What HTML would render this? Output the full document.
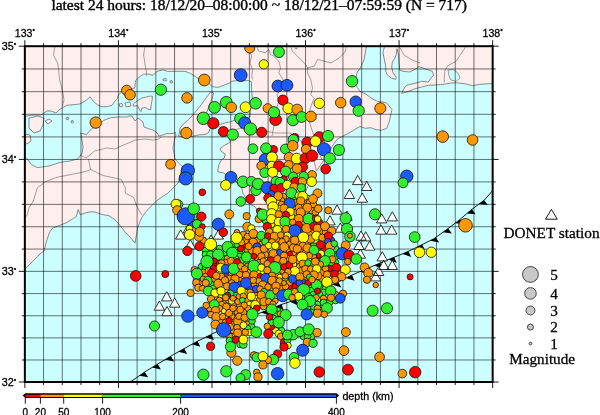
<!DOCTYPE html>
<html><head><meta charset="utf-8"><style>html,body{margin:0;padding:0;background:#fff;overflow:hidden}svg{display:block}</style></head>
<body>
<svg width="600" height="415" viewBox="0 0 600 415">
<defs><clipPath id="mc"><rect x="24.85" y="46.20" width="467.80" height="335.80"/></clipPath></defs>
<style>text{stroke:#000;stroke-width:0.28px}</style>
<rect width="600" height="415" fill="#fff"/>
<g clip-path="url(#mc)">
<rect x="24.85" y="46.20" width="467.80" height="335.80" fill="#ccffff"/>
<path d="M20.0 41.0 L367.4 41.0 L364.0 60.0 L360.3 68.0 L357.3 72.0 L356.0 77.3 L356.7 86.7 L360.0 91.3 L366.7 94.7 L372.0 98.7 L377.3 101.3 L381.3 101.7 L386.7 103.0 L392.0 109.7 L390.7 115.0 L389.3 121.7 L386.7 128.3 L381.3 130.3 L376.0 129.7 L370.7 127.7 L365.3 128.3 L360.0 126.5 L347.7 133.7 L337.6 138.8 L333.3 144.6 L330.0 150.0 L326.0 157.0 L321.7 163.4 L318.8 167.7 L314.5 173.5 L312.0 178.0 L308.0 186.0 L306.0 191.0 L303.0 197.0 L300.0 203.0 L292.0 212.0 L287.0 219.0 L283.0 224.0 L276.0 222.0 L270.0 218.0 L263.0 213.0 L257.7 210.7 L255.0 206.7 L249.7 204.0 L243.0 193.3 L241.7 188.0 L238.4 183.4 L230.0 178.0 L223.2 172.8 L217.7 171.8 L218.2 168.2 L219.2 164.2 L221.2 160.1 L224.2 158.1 L225.2 154.0 L221.3 151.4 L220.2 148.4 L224.3 145.4 L230.4 142.3 L229.4 139.3 L230.0 136.0 L228.3 131.0 L220.2 127.1 L217.5 126.5 L219.6 124.5 L225.0 123.0 L230.0 122.0 L235.0 120.0 L242.0 118.5 L250.0 117.0 L251.0 105.0 L252.3 97.5 L251.4 88.0 L251.7 82.0 L249.0 80.7 L238.3 80.4 L231.7 81.3 L229.0 83.3 L218.3 87.3 L214.0 87.0 L211.7 86.0 L205.0 80.0 L198.3 78.7 L195.7 76.7 L190.3 73.3 L185.0 71.3 L175.0 71.4 L168.0 71.4 L162.5 70.0 L157.0 71.4 L153.0 75.4 L149.0 74.1 L143.6 74.1 L139.5 76.8 L135.5 80.8 L134.7 88.0 L128.0 89.5 L122.7 90.7 L118.7 94.7 L117.3 98.7 L114.7 101.3 L112.0 105.3 L106.7 106.7 L101.3 106.7 L97.3 104.7 L93.3 101.3 L90.0 96.7 L86.7 100.0 L80.0 104.0 L73.3 104.7 L66.7 105.3 L60.0 109.3 L56.0 113.0 L51.0 111.0 L47.0 111.0 L41.0 115.0 L33.0 115.0 L20.0 117.0 ZM383.8 41.0 L384.3 47.3 L383.0 52.7 L384.3 59.3 L385.7 66.0 L385.7 71.3 L387.0 74.7 L391.0 78.0 L395.7 79.3 L396.3 77.3 L393.0 72.7 L391.7 67.3 L392.3 62.0 L395.0 58.0 L396.3 54.0 L397.0 48.7 L398.5 55.0 L399.7 70.0 L403.0 71.3 L409.7 72.0 L415.0 69.3 L419.0 66.7 L423.0 68.0 L428.3 70.0 L432.3 71.3 L433.7 75.3 L431.0 78.0 L428.3 82.0 L421.7 81.3 L415.0 83.3 L408.3 84.7 L405.7 86.0 L403.0 90.0 L401.7 93.3 L407.0 92.0 L415.0 88.7 L428.3 85.3 L435.0 85.0 L442.8 84.4 L450.6 83.1 L457.1 82.8 L465.0 83.8 L472.8 85.7 L479.3 84.4 L487.1 83.8 L498.0 83.5 L498.0 41.0 ZM20.0 155.0 L25.8 157.4 L31.6 164.7 L37.3 167.6 L49.0 166.0 L58.0 163.0 L63.4 161.8 L70.0 161.0 L77.8 159.0 L82.2 153.0 L83.0 147.0 L82.2 141.6 L80.7 133.0 L86.4 134.6 L92.0 128.3 L98.7 124.3 L104.0 120.3 L110.7 117.7 L118.7 117.0 L126.7 117.0 L129.0 116.0 L132.0 116.0 L135.0 121.0 L138.0 118.0 L143.0 122.0 L144.0 127.0 L148.0 128.5 L154.0 130.5 L157.0 133.0 L159.0 136.0 L163.0 135.0 L167.0 133.5 L173.0 133.5 L175.0 132.0 L176.0 135.0 L174.3 140.0 L173.0 148.0 L175.0 158.7 L178.3 162.7 L182.3 166.7 L181.0 171.4 L178.3 182.7 L173.0 188.0 L167.7 193.3 L162.3 196.7 L155.5 201.8 L152.2 205.2 L147.1 210.2 L142.0 217.0 L137.8 227.1 L135.0 243.1 L130.2 237.2 L125.2 232.2 L120.0 225.4 L115.1 219.8 L109.0 215.7 L102.8 214.7 L96.7 212.6 L92.6 211.6 L86.4 212.6 L80.3 214.7 L78.2 209.6 L76.2 216.7 L71.1 219.8 L66.0 222.9 L60.8 224.9 L55.7 227.0 L52.6 228.0 L49.6 232.1 L47.5 238.2 L45.5 244.4 L44.5 250.5 L39.3 254.6 L33.2 260.8 L25.0 269.0 L20.0 272.0 ZM213.0 92.3 L213.5 93.6 L211.3 100.4 L208.0 108.8 L206.3 113.8 L204.6 118.9 L208.8 124.0 L210.5 127.3 L208.8 132.4 L205.0 134.5 L199.4 134.8 L191.2 136.6 L183.0 137.4 L178.5 136.0 L179.3 134.1 L180.1 128.2 L183.5 124.0 L189.4 118.9 L195.3 112.2 L201.2 104.6 L206.3 97.8 L210.5 92.0 ZM133.4 104.0 L137.6 100.6 L141.9 98.1 L146.9 96.9 L150.3 96.0 L152.4 96.4 L152.0 100.6 L151.1 104.9 L150.7 109.9 L147.8 109.1 L145.2 107.4 L141.9 108.2 L141.0 111.6 L139.3 109.1 L137.6 105.7 L133.4 106.1 ZM29.0 118.0 L38.0 116.0 L44.0 118.0 L43.0 125.0 L40.0 131.0 L34.0 133.0 L29.0 128.0 ZM25.0 134.0 L30.0 135.0 L31.0 141.0 L27.0 144.0 L25.0 143.0 ZM45.0 121.0 L49.0 119.0 L52.0 121.0 L48.0 124.0 ZM125.0 103.0 L130.0 102.0 L131.0 106.0 L126.0 107.0 ZM119.0 104.0 L122.0 103.5 L123.0 106.0 L120.0 107.0 ZM66.0 118.0 L68.0 117.0 L69.0 119.0 L67.0 120.0 ZM71.0 121.0 L73.0 120.5 L73.5 122.5 L71.5 123.0 ZM163.0 79.0 L166.0 78.5 L166.5 80.5 L163.5 81.0 ZM170.0 81.0 L172.0 80.5 L172.5 82.5 L170.5 83.0 Z" fill="#ffeeee" stroke="#444" stroke-width="0.6" stroke-linejoin="round"/>
<path d="M448 70 L453 69.5 L458 73 L460 78 L456 81.5 L451 80 L449 76Z" fill="#ccffff" stroke="#444" stroke-width="0.5"/>
<path d="M294.5 41 L298 41 L297 48.8 L295 48.5Z" fill="#ccffff" stroke="#444" stroke-width="0.5"/>
<path d="M55.0 41.0 L55.0 46.0 L53.5 55.0 L58.0 64.0 L59.5 79.0 L62.5 91.0 L64.0 100.0 L62.5 106.0M145.0 41.0 L145.0 46.0 L143.6 55.0 L145.0 64.0 L146.6 73.0 L146.6 76.0M80.0 155.0 L86.0 158.0 L94.6 151.0 L107.0 148.0 L115.0 149.0 L123.3 145.0 L131.0 142.0 L135.0 140.0 L145.0 139.0 L153.0 140.0 L159.0 139.0 L161.0 137.0M88.5 159.0 L90.5 169.4 L86.4 171.4 L76.2 173.5 L66.0 175.5 L55.7 177.6 L45.5 181.7 L37.3 187.8 L35.2 195.0 L33.2 201.4 L29.1 207.5 L27.0 215.7 L20.0 222.0M90.5 169.4 L102.8 175.5 L113.0 177.6 L121.3 179.6 L125.3 187.8 L125.3 193.2 L133.5 197.3 L136.6 205.5 L139.7 211.6 L142.0 215.0M250.0 41.0 L250.0 52.7 L251.8 56.0 L250.0 62.9 L252.6 69.6 L251.8 76.4 L252.6 79.7M256.9 41.0 L256.9 46.0 L258.5 51.0 L265.3 52.7 L268.7 49.4 L270.4 54.4 L273.7 56.1 L278.8 61.2 L280.5 67.9 L278.8 73.0 L283.0 79.7 L282.2 86.5 L277.0 94.9 L278.8 101.6 L276.0 110.0 L275.0 121.0 L272.0 136.0M228.0 132.0 L245.0 127.0 L260.0 130.0 L275.0 133.0 L290.0 133.0 L300.0 140.0 L308.0 150.0 L314.0 160.0 L316.0 170.0M290.6 41.0 L290.6 46.0 L292.3 51.0 L295.6 54.4 L300.7 59.5 L305.8 64.5 L307.5 67.9 L307.5 73.0 L310.8 79.7 L312.5 88.2 L310.8 94.9 L314.2 98.3 L311.0 106.0 L308.0 118.0 L311.0 127.0 L314.0 136.0 L318.0 150.0 L322.0 160.0M307.5 67.9 L314.2 66.2 L317.6 59.5 L324.3 61.2 L331.0 62.9 L339.5 57.8 L345.0 52.0 L348.0 41.0M466.3 41.0 L466.3 46.0 L461.0 53.8 L455.8 61.6 L448.0 65.5 L444.8 70.7 L444.1 82.5M399.0 46.0 L404.0 55.0 L412.0 60.0 L420.0 63.0" fill="none" stroke="#666" stroke-width="0.6" stroke-linejoin="round"/>
<path d="M43.56 46.20V382.00M62.27 46.20V382.00M80.99 46.20V382.00M99.70 46.20V382.00M118.41 46.20V382.00M137.12 46.20V382.00M155.83 46.20V382.00M174.55 46.20V382.00M193.26 46.20V382.00M211.97 46.20V382.00M230.68 46.20V382.00M249.39 46.20V382.00M268.11 46.20V382.00M286.82 46.20V382.00M305.53 46.20V382.00M324.24 46.20V382.00M342.95 46.20V382.00M361.67 46.20V382.00M380.38 46.20V382.00M399.09 46.20V382.00M417.80 46.20V382.00M436.51 46.20V382.00M455.23 46.20V382.00M473.94 46.20V382.00M24.85 359.97H492.65M24.85 337.89H492.65M24.85 315.76H492.65M24.85 293.58H492.65M24.85 271.35H492.65M24.85 249.07H492.65M24.85 226.74H492.65M24.85 204.36H492.65M24.85 181.92H492.65M24.85 159.44H492.65M24.85 136.90H492.65M24.85 114.31H492.65M24.85 91.66H492.65M24.85 68.96H492.65" stroke="#000" stroke-width="0.9" stroke-opacity="0.62" fill="none"/>
<path d="M130.7 381.7 L146.7 370.7 L173.3 354.7 L194.7 342.7 L210.7 334.7 L224.0 328.0 L250.0 317.0 L280.0 305.0 L310.0 295.0 L335.5 283.5 L352.0 275.0 L385.0 261.0 L407.0 252.0 L420.3 245.5 L433.8 238.8 L445.6 230.4 L459.1 220.2 L470.9 210.1 L484.4 200.0 L494.0 189.0" stroke="#000" stroke-width="0.9" fill="none"/>
<path d="M139.4 375.8L144.7 372.1L148.2 377.2ZM152.2 367.4L157.7 364.1L160.9 369.4ZM165.3 359.5L170.9 356.2L174.0 361.5ZM178.5 351.8L184.2 348.6L187.2 354.0ZM191.8 344.3L197.6 341.3L200.3 346.8ZM205.4 337.3L211.3 334.4L214.0 340.0ZM219.1 330.5L224.9 327.6L227.4 333.3ZM233.0 324.2L239.0 321.6L241.5 327.3ZM247.1 318.2L253.2 315.7L255.5 321.5ZM261.3 312.5L267.4 310.1L269.7 315.8ZM275.5 306.8L281.6 304.5L283.6 310.3ZM289.9 301.7L296.1 299.6L298.1 305.5ZM304.5 296.8L310.6 294.7L313.2 300.4ZM318.6 291.1L324.6 288.4L327.1 294.1ZM332.6 284.8L338.4 282.0L341.3 287.5ZM346.2 278.0L352.0 275.0L354.4 280.7ZM360.1 271.6L366.1 269.0L368.5 274.7ZM374.2 265.6L380.2 263.0L382.6 268.7ZM388.3 259.6L394.3 257.2L396.7 262.9ZM402.5 253.9L408.4 251.3L411.2 256.9ZM416.4 247.4L422.2 244.6L424.9 250.1ZM430.1 240.7L435.7 237.4L439.3 242.5ZM442.9 232.3L448.1 228.5L451.9 233.4ZM455.1 223.2L460.3 219.2L464.3 223.9ZM466.9 213.5L471.9 209.3L475.7 214.3ZM479.0 204.0L484.2 200.2L487.9 205.1Z" fill="#000"/>
<path d="M166.7 291.7L171.9 300.9L161.5 300.9ZM174.7 298.0L179.9 307.2L169.5 307.2ZM159.4 301.0L164.6 310.2L154.2 310.2ZM167.0 306.5L172.2 315.7L161.8 315.7ZM357.7 175.4L362.9 184.6L352.5 184.6ZM366.7 181.3L371.9 190.5L361.5 190.5ZM349.4 189.3L354.6 198.5L344.2 198.5ZM288.0 276.5L293.2 285.7L282.8 285.7ZM362.3 193.0L367.5 202.2L357.1 202.2ZM180.7 229.9L185.9 239.1L175.5 239.1ZM188.3 223.7L193.5 232.9L183.1 232.9ZM190.3 239.7L195.5 248.9L185.1 248.9ZM218.3 229.9L223.5 239.1L213.1 239.1ZM211.0 235.0L216.2 244.2L205.8 244.2ZM337.0 205.0L342.2 214.2L331.8 214.2ZM347.0 211.0L352.2 220.2L341.8 220.2ZM330.0 215.7L335.2 224.9L324.8 224.9ZM340.3 223.0L345.5 232.2L335.1 232.2ZM381.7 213.7L386.9 222.9L376.5 222.9ZM392.3 211.7L397.5 220.9L387.1 220.9ZM381.0 225.0L386.2 234.2L375.8 234.2ZM391.7 225.0L396.9 234.2L386.5 234.2ZM361.0 231.0L366.2 240.2L355.8 240.2ZM365.7 231.7L370.9 240.9L360.5 240.9ZM359.0 240.3L364.2 249.5L353.8 249.5ZM369.7 241.0L374.9 250.2L364.5 250.2ZM360.3 249.0L365.5 258.2L355.1 258.2ZM382.3 251.7L387.5 260.9L377.1 260.9ZM383.7 260.3L388.9 269.5L378.5 269.5ZM392.3 260.3L397.5 269.5L387.1 269.5ZM378.7 266.3L383.9 275.5L373.5 275.5ZM375.7 271.7L380.9 280.9L370.5 280.9Z" fill="#fff" stroke="#000" stroke-width="0.8" stroke-linejoin="miter"/>
<g stroke="#111" stroke-width="0.8"><circle cx="283.5" cy="196.5" r="3.35" fill="#ff9800"/><circle cx="293.5" cy="198.5" r="3.35" fill="#30f030"/><circle cx="307.5" cy="198.5" r="3.35" fill="#ffff00"/><circle cx="281.5" cy="200.5" r="3.35" fill="#ff9800"/><circle cx="277.5" cy="202.5" r="3.35" fill="#ffff00"/><circle cx="295.5" cy="202.5" r="3.35" fill="#ff9800"/><circle cx="305.5" cy="202.5" r="3.35" fill="#ff9800"/><circle cx="309.5" cy="202.5" r="3.35" fill="#ff9800"/><circle cx="281.5" cy="204.5" r="3.35" fill="#ff9800"/><circle cx="313.5" cy="204.5" r="3.35" fill="#ff9800"/><circle cx="279.5" cy="208.5" r="3.35" fill="#ffff00"/><circle cx="293.5" cy="208.5" r="3.35" fill="#ff9800"/><circle cx="311.5" cy="210.5" r="3.35" fill="#ff9800"/><circle cx="295.5" cy="212.5" r="3.35" fill="#ff9800"/><circle cx="315.5" cy="212.5" r="3.35" fill="#ff9800"/><circle cx="195.5" cy="216.5" r="3.35" fill="#30f030"/><circle cx="291.5" cy="216.5" r="3.35" fill="#ffff00"/><circle cx="265.5" cy="220.5" r="3.35" fill="#30f030"/><circle cx="303.5" cy="222.5" r="3.35" fill="#ff9800"/><circle cx="319.5" cy="222.5" r="3.35" fill="#ff0000"/><circle cx="191.5" cy="224.5" r="3.35" fill="#1a5aff"/><circle cx="271.5" cy="224.5" r="3.35" fill="#ffff00"/><circle cx="281.5" cy="226.5" r="3.35" fill="#ffff00"/><circle cx="289.5" cy="226.5" r="3.35" fill="#ff9800"/><circle cx="193.5" cy="230.5" r="3.35" fill="#ff9800"/><circle cx="301.5" cy="230.5" r="3.35" fill="#1a5aff"/><circle cx="311.5" cy="230.5" r="3.35" fill="#ff9800"/><circle cx="321.5" cy="230.5" r="3.35" fill="#ff9800"/><circle cx="283.5" cy="232.5" r="3.35" fill="#ff9800"/><circle cx="325.5" cy="232.5" r="3.35" fill="#ff9800"/><circle cx="309.5" cy="234.5" r="3.35" fill="#ff9800"/><circle cx="203.5" cy="240.5" r="3.35" fill="#ff9800"/><circle cx="257.5" cy="240.5" r="3.35" fill="#ff9800"/><circle cx="277.5" cy="240.5" r="3.35" fill="#ff9800"/><circle cx="289.5" cy="240.5" r="3.35" fill="#ff9800"/><circle cx="315.5" cy="240.5" r="3.35" fill="#ffff00"/><circle cx="331.5" cy="240.5" r="3.35" fill="#1a5aff"/><circle cx="299.5" cy="242.5" r="3.35" fill="#ff9800"/><circle cx="307.5" cy="242.5" r="3.35" fill="#ff9800"/><circle cx="233.5" cy="244.5" r="3.35" fill="#30f030"/><circle cx="237.5" cy="244.5" r="3.35" fill="#30f030"/><circle cx="261.5" cy="244.5" r="3.35" fill="#ff9800"/><circle cx="279.5" cy="244.5" r="3.35" fill="#ff9800"/><circle cx="289.5" cy="244.5" r="3.35" fill="#ff9800"/><circle cx="243.5" cy="246.5" r="3.35" fill="#ff0000"/><circle cx="219.5" cy="248.5" r="3.35" fill="#30f030"/><circle cx="271.5" cy="248.5" r="3.35" fill="#ffff00"/><circle cx="279.5" cy="248.5" r="3.35" fill="#ff9800"/><circle cx="323.5" cy="248.5" r="3.35" fill="#ff0000"/><circle cx="205.5" cy="250.5" r="3.35" fill="#30f030"/><circle cx="213.5" cy="250.5" r="3.35" fill="#30f030"/><circle cx="243.5" cy="250.5" r="3.35" fill="#30f030"/><circle cx="247.5" cy="250.5" r="3.35" fill="#ff9800"/><circle cx="251.5" cy="250.5" r="3.35" fill="#ff9800"/><circle cx="289.5" cy="250.5" r="3.35" fill="#ff9800"/><circle cx="239.5" cy="252.5" r="3.35" fill="#30f030"/><circle cx="293.5" cy="252.5" r="3.35" fill="#ff9800"/><circle cx="305.5" cy="252.5" r="3.35" fill="#ff9800"/><circle cx="335.5" cy="252.5" r="3.35" fill="#ff9800"/><circle cx="225.5" cy="254.5" r="3.35" fill="#30f030"/><circle cx="265.5" cy="254.5" r="3.35" fill="#ff9800"/><circle cx="239.5" cy="256.5" r="3.35" fill="#30f030"/><circle cx="313.5" cy="256.5" r="3.35" fill="#ff9800"/><circle cx="223.5" cy="258.5" r="3.35" fill="#30f030"/><circle cx="227.5" cy="258.5" r="3.35" fill="#ff9800"/><circle cx="235.5" cy="258.5" r="3.35" fill="#30f030"/><circle cx="257.5" cy="258.5" r="3.35" fill="#ff9800"/><circle cx="287.5" cy="258.5" r="3.35" fill="#ff9800"/><circle cx="319.5" cy="258.5" r="3.35" fill="#ff0000"/><circle cx="217.5" cy="262.5" r="3.35" fill="#ff0000"/><circle cx="225.5" cy="262.5" r="3.35" fill="#ff9800"/><circle cx="245.5" cy="262.5" r="3.35" fill="#30f030"/><circle cx="259.5" cy="262.5" r="3.35" fill="#ff9800"/><circle cx="279.5" cy="262.5" r="3.35" fill="#ff9800"/><circle cx="297.5" cy="262.5" r="3.35" fill="#ff9800"/><circle cx="335.5" cy="262.5" r="3.35" fill="#30f030"/><circle cx="213.5" cy="264.5" r="3.35" fill="#ff0000"/><circle cx="293.5" cy="264.5" r="3.35" fill="#ffff00"/><circle cx="311.5" cy="264.5" r="3.35" fill="#ff9800"/><circle cx="331.5" cy="264.5" r="3.35" fill="#30f030"/><circle cx="201.5" cy="266.5" r="3.35" fill="#30f030"/><circle cx="247.5" cy="266.5" r="3.35" fill="#ff9800"/><circle cx="299.5" cy="266.5" r="3.35" fill="#ff9800"/><circle cx="205.5" cy="268.5" r="3.35" fill="#30f030"/><circle cx="213.5" cy="268.5" r="3.35" fill="#ff0000"/><circle cx="321.5" cy="268.5" r="3.35" fill="#ff9800"/><circle cx="329.5" cy="268.5" r="3.35" fill="#ff0000"/><circle cx="239.5" cy="270.5" r="3.35" fill="#ff9800"/><circle cx="281.5" cy="270.5" r="3.35" fill="#ff9800"/><circle cx="301.5" cy="270.5" r="3.35" fill="#ff9800"/><circle cx="203.5" cy="272.5" r="3.35" fill="#ff9800"/><circle cx="219.5" cy="272.5" r="3.35" fill="#ffff00"/><circle cx="249.5" cy="272.5" r="3.35" fill="#ff9800"/><circle cx="259.5" cy="272.5" r="3.35" fill="#ffff00"/><circle cx="263.5" cy="272.5" r="3.35" fill="#ffff00"/><circle cx="321.5" cy="272.5" r="3.35" fill="#ff9800"/><circle cx="227.5" cy="274.5" r="3.35" fill="#1a5aff"/><circle cx="231.5" cy="274.5" r="3.35" fill="#ff9800"/><circle cx="235.5" cy="274.5" r="3.35" fill="#ff9800"/><circle cx="239.5" cy="274.5" r="3.35" fill="#ff9800"/><circle cx="277.5" cy="274.5" r="3.35" fill="#ff9800"/><circle cx="205.5" cy="276.5" r="3.35" fill="#ff9800"/><circle cx="221.5" cy="276.5" r="3.35" fill="#ff9800"/><circle cx="305.5" cy="278.5" r="3.35" fill="#ff9800"/><circle cx="321.5" cy="278.5" r="3.35" fill="#ff9800"/><circle cx="213.5" cy="280.5" r="3.35" fill="#ff9800"/><circle cx="239.5" cy="280.5" r="3.35" fill="#ff9800"/><circle cx="285.5" cy="280.5" r="3.35" fill="#ff9800"/><circle cx="201.5" cy="282.5" r="3.35" fill="#ff9800"/><circle cx="295.5" cy="282.5" r="3.35" fill="#1a5aff"/><circle cx="303.5" cy="282.5" r="3.35" fill="#1a5aff"/><circle cx="211.5" cy="284.5" r="3.35" fill="#30f030"/><circle cx="239.5" cy="284.5" r="3.35" fill="#1a5aff"/><circle cx="253.5" cy="284.5" r="3.35" fill="#ff9800"/><circle cx="281.5" cy="284.5" r="3.35" fill="#ff9800"/><circle cx="289.5" cy="286.5" r="3.35" fill="#ff0000"/><circle cx="309.5" cy="286.5" r="3.35" fill="#30f030"/><circle cx="213.5" cy="288.5" r="3.35" fill="#30f030"/><circle cx="249.5" cy="288.5" r="3.35" fill="#1a5aff"/><circle cx="271.5" cy="288.5" r="3.35" fill="#ff9800"/><circle cx="281.5" cy="288.5" r="3.35" fill="#ff9800"/><circle cx="321.5" cy="288.5" r="3.35" fill="#30f030"/><circle cx="325.5" cy="288.5" r="3.35" fill="#30f030"/><circle cx="225.5" cy="290.5" r="3.35" fill="#ffff00"/><circle cx="311.5" cy="290.5" r="3.35" fill="#30f030"/><circle cx="245.5" cy="292.5" r="3.35" fill="#ffff00"/><circle cx="235.5" cy="294.5" r="3.35" fill="#30f030"/><circle cx="255.5" cy="294.5" r="3.35" fill="#ff9800"/><circle cx="313.5" cy="294.5" r="3.35" fill="#30f030"/><circle cx="335.5" cy="294.5" r="3.35" fill="#ff9800"/><circle cx="219.5" cy="296.5" r="3.35" fill="#ffff00"/><circle cx="239.5" cy="296.5" r="3.35" fill="#ff9800"/><circle cx="303.5" cy="296.5" r="3.35" fill="#30f030"/><circle cx="215.5" cy="298.5" r="3.35" fill="#ff9800"/><circle cx="255.5" cy="298.5" r="3.35" fill="#ffff00"/><circle cx="219.5" cy="300.5" r="3.35" fill="#ff9800"/><circle cx="247.5" cy="300.5" r="3.35" fill="#ff9800"/><circle cx="259.5" cy="300.5" r="3.35" fill="#ff9800"/><circle cx="335.5" cy="300.5" r="3.35" fill="#30f030"/><circle cx="225.5" cy="302.5" r="3.35" fill="#ff9800"/><circle cx="221.5" cy="304.5" r="3.35" fill="#ff9800"/><circle cx="233.5" cy="304.5" r="3.35" fill="#ff9800"/><circle cx="239.5" cy="304.5" r="3.35" fill="#ff9800"/><circle cx="249.5" cy="304.5" r="3.35" fill="#ffff00"/><circle cx="263.5" cy="306.5" r="3.35" fill="#ff9800"/><circle cx="209.5" cy="308.5" r="3.35" fill="#ff9800"/><circle cx="219.5" cy="308.5" r="3.35" fill="#ff9800"/><circle cx="247.5" cy="308.5" r="3.35" fill="#ff9800"/><circle cx="309.5" cy="308.5" r="3.35" fill="#30f030"/><circle cx="277.5" cy="310.5" r="3.35" fill="#30f030"/><circle cx="313.5" cy="310.5" r="3.35" fill="#30f030"/><circle cx="321.5" cy="310.5" r="3.35" fill="#ff9800"/><circle cx="233.5" cy="312.5" r="3.35" fill="#ff9800"/><circle cx="237.5" cy="312.5" r="3.35" fill="#ff9800"/><circle cx="243.5" cy="312.5" r="3.35" fill="#ff9800"/><circle cx="275.5" cy="314.5" r="3.35" fill="#30f030"/><circle cx="231.5" cy="316.5" r="3.35" fill="#ff9800"/><circle cx="273.5" cy="318.5" r="3.35" fill="#30f030"/><circle cx="221.5" cy="320.5" r="3.35" fill="#ff9800"/><circle cx="225.5" cy="322.5" r="3.35" fill="#ff9800"/><circle cx="233.5" cy="324.5" r="3.35" fill="#ff9800"/><circle cx="247.5" cy="324.5" r="3.35" fill="#ff9800"/><circle cx="251.5" cy="326.5" r="3.35" fill="#30f030"/><circle cx="247.5" cy="328.5" r="3.35" fill="#30f030"/><circle cx="233.5" cy="330.5" r="3.35" fill="#ff9800"/><circle cx="241.5" cy="330.5" r="3.35" fill="#ff9800"/><circle cx="275.5" cy="330.5" r="3.35" fill="#ffff00"/><circle cx="281.5" cy="330.5" r="3.35" fill="#30f030"/><circle cx="229.5" cy="336.5" r="3.35" fill="#ff9800"/><circle cx="311.5" cy="336.5" r="3.35" fill="#30f030"/><circle cx="283.5" cy="342.5" r="3.35" fill="#ff0000"/><circle cx="189.5" cy="228.5" r="3.35" fill="#ffff00"/><circle cx="245.5" cy="240.5" r="3.35" fill="#ff9800"/><circle cx="335.5" cy="248.5" r="3.35" fill="#30f030"/><circle cx="205.5" cy="254.5" r="3.35" fill="#30f030"/><circle cx="335.5" cy="256.5" r="3.35" fill="#30f030"/><circle cx="241.5" cy="260.5" r="3.35" fill="#30f030"/><circle cx="325.5" cy="268.5" r="3.35" fill="#ff9800"/><circle cx="229.5" cy="278.5" r="3.35" fill="#ff9800"/><circle cx="289.5" cy="282.5" r="3.35" fill="#ff9800"/><circle cx="285.5" cy="286.5" r="3.35" fill="#ff9800"/><circle cx="323.5" cy="292.5" r="3.35" fill="#30f030"/><circle cx="329.5" cy="302.5" r="3.35" fill="#30f030"/><circle cx="317.5" cy="304.5" r="3.35" fill="#30f030"/><circle cx="271.5" cy="326.5" r="3.35" fill="#ff0000"/><circle cx="249.5" cy="332.5" r="3.35" fill="#ffff00"/><circle cx="303.5" cy="336.5" r="3.35" fill="#30f030"/><circle cx="307.5" cy="336.5" r="3.35" fill="#30f030"/><circle cx="229.5" cy="340.5" r="3.35" fill="#30f030"/><circle cx="287.5" cy="340.5" r="3.35" fill="#30f030"/><circle cx="243.5" cy="234.5" r="3.35" fill="#ff9800"/><circle cx="247.5" cy="236.5" r="3.35" fill="#ff9800"/><circle cx="241.5" cy="242.5" r="3.35" fill="#ff9800"/><circle cx="319.5" cy="294.5" r="3.35" fill="#30f030"/><circle cx="323.5" cy="298.5" r="3.35" fill="#ff9800"/><circle cx="323.5" cy="302.5" r="3.35" fill="#30f030"/><circle cx="313.5" cy="306.5" r="3.35" fill="#30f030"/><circle cx="317.5" cy="308.5" r="3.35" fill="#ff9800"/><circle cx="271.5" cy="322.5" r="3.35" fill="#30f030"/><circle cx="202.3" cy="192.3" r="3.35" fill="#ff0000"/><circle cx="126.7" cy="90.3" r="5.10" fill="#ff9800"/><circle cx="130.1" cy="94.8" r="5.25" fill="#ff9800"/><circle cx="160.9" cy="89.7" r="5.65" fill="#30f030"/><circle cx="95.7" cy="122.6" r="5.70" fill="#ff9800"/><circle cx="249.7" cy="48.0" r="5.05" fill="#ff9800"/><circle cx="263.8" cy="64.3" r="4.65" fill="#ffff00"/><circle cx="240.7" cy="75.1" r="6.40" fill="#1a5aff"/><circle cx="204.3" cy="80.0" r="5.90" fill="#ff9800"/><circle cx="279.0" cy="52.0" r="5.50" fill="#30f030"/><circle cx="277.9" cy="86.0" r="5.90" fill="#1a5aff"/><circle cx="287.0" cy="85.3" r="5.90" fill="#1a5aff"/><circle cx="352.0" cy="81.3" r="5.75" fill="#30f030"/><circle cx="319.3" cy="103.3" r="5.25" fill="#ffff00"/><circle cx="340.7" cy="102.7" r="5.25" fill="#ff9800"/><circle cx="355.7" cy="101.7" r="5.70" fill="#1a5aff"/><circle cx="358.7" cy="110.7" r="5.65" fill="#30f030"/><circle cx="380.3" cy="108.3" r="5.55" fill="#ff9800"/><circle cx="442.7" cy="136.6" r="5.80" fill="#ff9800"/><circle cx="472.6" cy="140.0" r="5.30" fill="#ff9800"/><circle cx="465.5" cy="225.3" r="6.80" fill="#ff9800"/><circle cx="414.7" cy="237.1" r="5.40" fill="#30f030"/><circle cx="419.5" cy="252.3" r="5.30" fill="#ffff00"/><circle cx="431.3" cy="252.3" r="5.15" fill="#ffff00"/><circle cx="135.7" cy="275.9" r="5.35" fill="#ff0000"/><circle cx="165.3" cy="274.1" r="3.55" fill="#ff0000"/><circle cx="402.4" cy="373.6" r="4.35" fill="#ff9800"/><circle cx="415.2" cy="372.2" r="5.75" fill="#ff0000"/><circle cx="410.1" cy="276.9" r="3.05" fill="#ff0000"/><circle cx="154.5" cy="326.0" r="5.05" fill="#30f030"/><circle cx="406.8" cy="176.2" r="6.20" fill="#1a5aff"/><circle cx="403.0" cy="182.8" r="4.95" fill="#30f030"/><circle cx="187.0" cy="97.9" r="5.26" fill="#ff9800"/><circle cx="214.6" cy="107.3" r="5.89" fill="#30f030"/><circle cx="226.3" cy="102.3" r="5.89" fill="#30f030"/><circle cx="231.3" cy="107.3" r="5.26" fill="#ff9800"/><circle cx="203.4" cy="118.3" r="6.23" fill="#30f030"/><circle cx="213.3" cy="123.3" r="5.65" fill="#ff0000"/><circle cx="240.3" cy="118.7" r="5.65" fill="#30f030"/><circle cx="223.4" cy="131.7" r="5.10" fill="#ff0000"/><circle cx="232.7" cy="134.6" r="5.65" fill="#30f030"/><circle cx="186.3" cy="133.0" r="5.65" fill="#ff9800"/><circle cx="245.6" cy="107.3" r="5.41" fill="#ffff00"/><circle cx="255.6" cy="103.3" r="5.77" fill="#30f030"/><circle cx="267.7" cy="108.3" r="4.63" fill="#ff9800"/><circle cx="275.6" cy="119.7" r="5.89" fill="#ff0000"/><circle cx="274.0" cy="112.3" r="5.65" fill="#30f030"/><circle cx="282.9" cy="100.1" r="5.10" fill="#ff0000"/><circle cx="288.3" cy="108.3" r="5.41" fill="#ffff00"/><circle cx="297.1" cy="109.4" r="5.26" fill="#ff9800"/><circle cx="292.9" cy="120.3" r="5.57" fill="#30f030"/><circle cx="244.7" cy="123.0" r="6.04" fill="#1a5aff"/><circle cx="250.4" cy="129.0" r="6.20" fill="#30f030"/><circle cx="261.7" cy="132.3" r="5.10" fill="#ff0000"/><circle cx="294.7" cy="137.7" r="4.08" fill="#ff0000"/><circle cx="293.3" cy="139.7" r="5.26" fill="#30f030"/><circle cx="301.7" cy="117.0" r="5.45" fill="#30f030"/><circle cx="310.9" cy="116.5" r="5.41" fill="#ff9800"/><circle cx="319.3" cy="137.3" r="5.65" fill="#ff0000"/><circle cx="328.0" cy="136.0" r="5.57" fill="#30f030"/><circle cx="307.3" cy="142.5" r="5.45" fill="#ff0000"/><circle cx="315.5" cy="141.2" r="5.34" fill="#ffff00"/><circle cx="324.0" cy="149.3" r="6.57" fill="#1a5aff"/><circle cx="338.9" cy="150.0" r="5.57" fill="#30f030"/><circle cx="170.6" cy="164.3" r="4.86" fill="#ff9800"/><circle cx="187.9" cy="170.4" r="6.57" fill="#1a5aff"/><circle cx="185.7" cy="178.4" r="6.57" fill="#1a5aff"/><circle cx="231.0" cy="177.3" r="5.90" fill="#1a5aff"/><circle cx="225.7" cy="185.1" r="5.10" fill="#ffff00"/><circle cx="252.9" cy="148.7" r="4.86" fill="#30f030"/><circle cx="273.3" cy="149.7" r="4.08" fill="#ff0000"/><circle cx="266.0" cy="148.3" r="5.41" fill="#30f030"/><circle cx="285.3" cy="149.0" r="4.86" fill="#30f030"/><circle cx="292.7" cy="145.8" r="5.26" fill="#ff9800"/><circle cx="306.1" cy="149.2" r="4.75" fill="#ff9800"/><circle cx="265.3" cy="159.4" r="6.04" fill="#1a5aff"/><circle cx="272.0" cy="157.3" r="5.41" fill="#ffff00"/><circle cx="289.1" cy="157.3" r="4.86" fill="#ff9800"/><circle cx="296.7" cy="158.6" r="5.41" fill="#ffff00"/><circle cx="305.3" cy="158.3" r="5.26" fill="#ff0000"/><circle cx="312.0" cy="155.7" r="5.65" fill="#ff0000"/><circle cx="261.3" cy="165.7" r="4.47" fill="#ff9800"/><circle cx="271.7" cy="165.7" r="4.47" fill="#ffff00"/><circle cx="278.9" cy="166.1" r="5.41" fill="#ff0000"/><circle cx="288.7" cy="165.0" r="4.47" fill="#ff9800"/><circle cx="302.7" cy="167.0" r="4.86" fill="#ff0000"/><circle cx="297.1" cy="168.7" r="4.86" fill="#ff9800"/><circle cx="264.7" cy="172.7" r="4.86" fill="#30f030"/><circle cx="272.7" cy="172.3" r="5.10" fill="#ffff00"/><circle cx="285.7" cy="171.4" r="5.26" fill="#30f030"/><circle cx="312.0" cy="175.0" r="4.47" fill="#ff9800"/><circle cx="293.1" cy="176.7" r="4.63" fill="#30f030"/><circle cx="303.7" cy="176.3" r="4.63" fill="#30f030"/><circle cx="284.0" cy="179.0" r="3.29" fill="#ff0000"/><circle cx="243.0" cy="181.8" r="5.80" fill="#30f030"/><circle cx="251.3" cy="181.3" r="4.86" fill="#30f030"/><circle cx="256.0" cy="190.3" r="5.26" fill="#30f030"/><circle cx="258.0" cy="183.9" r="5.57" fill="#30f030"/><circle cx="267.3" cy="187.9" r="6.04" fill="#1a5aff"/><circle cx="276.0" cy="181.3" r="4.86" fill="#30f030"/><circle cx="280.0" cy="182.3" r="4.86" fill="#30f030"/><circle cx="274.0" cy="188.3" r="4.08" fill="#ff0000"/><circle cx="281.3" cy="187.9" r="4.47" fill="#ff0000"/><circle cx="287.3" cy="185.0" r="4.63" fill="#ffff00"/><circle cx="295.3" cy="181.3" r="4.08" fill="#ff0000"/><circle cx="302.4" cy="181.7" r="4.08" fill="#ff9800"/><circle cx="311.7" cy="181.7" r="4.86" fill="#ffff00"/><circle cx="294.0" cy="187.0" r="4.08" fill="#ff9800"/><circle cx="301.3" cy="187.7" r="4.08" fill="#30f030"/><circle cx="291.3" cy="193.0" r="5.41" fill="#30f030"/><circle cx="271.3" cy="194.3" r="3.68" fill="#1a5aff"/><circle cx="298.7" cy="195.4" r="3.68" fill="#ffff00"/><circle cx="329.7" cy="158.3" r="5.65" fill="#30f030"/><circle cx="325.7" cy="169.0" r="4.86" fill="#ff0000"/><circle cx="317.5" cy="193.3" r="4.47" fill="#ff9800"/><circle cx="178.3" cy="204.3" r="4.47" fill="#30f030"/><circle cx="175.9" cy="204.1" r="4.86" fill="#ffff00"/><circle cx="177.3" cy="210.3" r="4.63" fill="#ff9800"/><circle cx="185.7" cy="216.3" r="8.57" fill="#1a5aff"/><circle cx="193.7" cy="208.7" r="5.77" fill="#30f030"/><circle cx="201.4" cy="216.6" r="4.63" fill="#ff0000"/><circle cx="197.0" cy="224.1" r="4.47" fill="#30f030"/><circle cx="202.3" cy="226.6" r="2.90" fill="#ff0000"/><circle cx="199.0" cy="236.6" r="4.63" fill="#ff9800"/><circle cx="199.7" cy="231.7" r="4.47" fill="#ff9800"/><circle cx="189.7" cy="234.7" r="5.26" fill="#ffff00"/><circle cx="229.3" cy="214.3" r="4.47" fill="#ff9800"/><circle cx="218.3" cy="224.3" r="6.04" fill="#1a5aff"/><circle cx="223.3" cy="232.3" r="4.31" fill="#ff0000"/><circle cx="237.0" cy="232.3" r="2.90" fill="#ff9800"/><circle cx="236.7" cy="237.9" r="5.65" fill="#ffff00"/><circle cx="210.6" cy="244.3" r="6.04" fill="#ffff00"/><circle cx="199.4" cy="246.3" r="4.47" fill="#ff0000"/><circle cx="227.7" cy="247.0" r="5.57" fill="#30f030"/><circle cx="240.8" cy="201.5" r="4.75" fill="#30f030"/><circle cx="250.2" cy="198.9" r="4.47" fill="#ff0000"/><circle cx="268.0" cy="198.0" r="4.27" fill="#ff0000"/><circle cx="278.3" cy="196.0" r="4.39" fill="#ff9800"/><circle cx="271.3" cy="201.7" r="5.26" fill="#ffff00"/><circle cx="273.1" cy="207.0" r="5.26" fill="#ffff00"/><circle cx="289.6" cy="203.7" r="5.57" fill="#1a5aff"/><circle cx="302.7" cy="196.3" r="4.86" fill="#ffff00"/><circle cx="300.7" cy="201.0" r="4.08" fill="#ff9800"/><circle cx="313.0" cy="198.9" r="4.47" fill="#ff9800"/><circle cx="307.3" cy="207.7" r="4.47" fill="#ff9800"/><circle cx="284.0" cy="208.3" r="4.08" fill="#ff9800"/><circle cx="290.0" cy="211.7" r="4.08" fill="#ffff00"/><circle cx="298.7" cy="207.7" r="3.68" fill="#ff9800"/><circle cx="300.7" cy="212.3" r="4.47" fill="#ff9800"/><circle cx="246.7" cy="216.1" r="3.68" fill="#ff9800"/><circle cx="258.7" cy="219.0" r="3.68" fill="#ff9800"/><circle cx="259.3" cy="211.0" r="2.90" fill="#ff0000"/><circle cx="262.7" cy="214.7" r="5.65" fill="#30f030"/><circle cx="271.7" cy="213.7" r="5.10" fill="#ffff00"/><circle cx="271.3" cy="219.0" r="4.63" fill="#ffff00"/><circle cx="286.0" cy="215.0" r="3.68" fill="#ff0000"/><circle cx="278.7" cy="214.3" r="3.68" fill="#ff9800"/><circle cx="278.7" cy="221.7" r="4.47" fill="#ffff00"/><circle cx="285.1" cy="221.7" r="5.26" fill="#30f030"/><circle cx="298.7" cy="219.0" r="4.63" fill="#ff9800"/><circle cx="308.7" cy="219.0" r="5.65" fill="#30f030"/><circle cx="292.7" cy="222.3" r="3.29" fill="#ff9800"/><circle cx="298.7" cy="225.0" r="3.68" fill="#ff0000"/><circle cx="306.7" cy="228.3" r="4.86" fill="#ff9800"/><circle cx="314.0" cy="226.3" r="4.08" fill="#ff0000"/><circle cx="294.7" cy="231.0" r="6.23" fill="#1a5aff"/><circle cx="277.3" cy="229.9" r="4.47" fill="#ffff00"/><circle cx="267.3" cy="226.7" r="4.08" fill="#ff0000"/><circle cx="247.3" cy="226.7" r="4.47" fill="#ff9800"/><circle cx="251.3" cy="228.3" r="3.68" fill="#ffff00"/><circle cx="253.3" cy="233.7" r="4.47" fill="#ff9800"/><circle cx="269.3" cy="231.7" r="3.68" fill="#ff9800"/><circle cx="286.0" cy="229.0" r="3.68" fill="#ff9800"/><circle cx="287.3" cy="235.7" r="3.68" fill="#ffff00"/><circle cx="317.3" cy="228.3" r="4.08" fill="#ff9800"/><circle cx="261.3" cy="235.7" r="4.47" fill="#30f030"/><circle cx="267.7" cy="236.1" r="3.29" fill="#ff0000"/><circle cx="274.4" cy="236.3" r="4.08" fill="#ff9800"/><circle cx="280.7" cy="235.0" r="3.29" fill="#ff9800"/><circle cx="310.7" cy="239.0" r="4.08" fill="#ff9800"/><circle cx="303.3" cy="237.4" r="5.41" fill="#ffff00"/><circle cx="294.7" cy="240.3" r="4.08" fill="#ff9800"/><circle cx="286.0" cy="239.0" r="3.29" fill="#ff9800"/><circle cx="265.3" cy="241.7" r="3.68" fill="#30f030"/><circle cx="272.0" cy="242.3" r="3.68" fill="#ff9800"/><circle cx="282.0" cy="241.7" r="3.29" fill="#ff9800"/><circle cx="302.7" cy="245.7" r="3.68" fill="#ff9800"/><circle cx="314.0" cy="247.0" r="4.08" fill="#30f030"/><circle cx="253.3" cy="242.3" r="4.08" fill="#ff9800"/><circle cx="318.2" cy="208.7" r="3.88" fill="#ff9800"/><circle cx="328.3" cy="210.3" r="3.53" fill="#ff9800"/><circle cx="345.7" cy="218.3" r="5.65" fill="#30f030"/><circle cx="375.0" cy="214.3" r="5.57" fill="#30f030"/><circle cx="315.8" cy="218.3" r="3.49" fill="#ff0000"/><circle cx="317.7" cy="219.0" r="3.29" fill="#ffff00"/><circle cx="325.0" cy="226.3" r="4.47" fill="#ff9800"/><circle cx="331.7" cy="231.0" r="4.08" fill="#ff9800"/><circle cx="347.0" cy="229.0" r="5.65" fill="#30f030"/><circle cx="349.9" cy="236.6" r="5.26" fill="#30f030"/><circle cx="349.9" cy="235.7" r="2.50" fill="#ff9800"/><circle cx="316.2" cy="235.7" r="4.47" fill="#ffff00"/><circle cx="322.3" cy="237.7" r="3.68" fill="#ff9800"/><circle cx="328.3" cy="236.1" r="4.08" fill="#ff0000"/><circle cx="327.7" cy="241.7" r="3.29" fill="#1a5aff"/><circle cx="320.3" cy="245.0" r="4.08" fill="#ff0000"/><circle cx="330.3" cy="246.3" r="4.86" fill="#ff9800"/><circle cx="334.3" cy="243.7" r="3.29" fill="#30f030"/><circle cx="345.7" cy="245.4" r="4.47" fill="#ff9800"/><circle cx="321.0" cy="253.7" r="3.68" fill="#ffff00"/><circle cx="329.7" cy="253.7" r="5.26" fill="#30f030"/><circle cx="342.3" cy="253.7" r="6.23" fill="#1a5aff"/><circle cx="349.0" cy="255.4" r="5.26" fill="#ff0000"/><circle cx="356.3" cy="259.0" r="5.26" fill="#30f030"/><circle cx="347.7" cy="261.7" r="3.29" fill="#ff9800"/><circle cx="332.3" cy="259.4" r="3.68" fill="#ff9800"/><circle cx="325.0" cy="261.0" r="5.41" fill="#30f030"/><circle cx="320.3" cy="264.3" r="3.29" fill="#ff9800"/><circle cx="336.3" cy="267.7" r="4.47" fill="#ff0000"/><circle cx="345.4" cy="269.7" r="4.86" fill="#ffff00"/><circle cx="364.6" cy="267.4" r="4.47" fill="#ff9800"/><circle cx="368.3" cy="273.0" r="4.63" fill="#ff9800"/><circle cx="367.0" cy="279.7" r="3.68" fill="#ff9800"/><circle cx="375.7" cy="285.0" r="2.74" fill="#ff9800"/><circle cx="327.0" cy="274.6" r="3.68" fill="#ff9800"/><circle cx="334.7" cy="274.6" r="4.08" fill="#ff0000"/><circle cx="341.7" cy="276.7" r="4.08" fill="#ff9800"/><circle cx="317.7" cy="275.7" r="4.08" fill="#ff9800"/><circle cx="335.0" cy="279.9" r="3.68" fill="#ff9800"/><circle cx="327.0" cy="282.1" r="5.26" fill="#ffff00"/><circle cx="330.7" cy="291.0" r="5.26" fill="#30f030"/><circle cx="343.0" cy="293.7" r="3.68" fill="#ff9800"/><circle cx="187.4" cy="251.0" r="4.63" fill="#ff0000"/><circle cx="210.3" cy="254.3" r="3.68" fill="#30f030"/><circle cx="218.1" cy="254.6" r="5.57" fill="#30f030"/><circle cx="232.3" cy="252.7" r="5.57" fill="#30f030"/><circle cx="214.3" cy="261.0" r="2.90" fill="#ff0000"/><circle cx="207.0" cy="261.7" r="6.23" fill="#30f030"/><circle cx="221.7" cy="263.0" r="3.29" fill="#ff9800"/><circle cx="220.7" cy="267.7" r="4.47" fill="#ffff00"/><circle cx="225.7" cy="269.0" r="4.47" fill="#1a5aff"/><circle cx="231.0" cy="261.0" r="3.68" fill="#ff9800"/><circle cx="237.0" cy="262.3" r="3.68" fill="#ff0000"/><circle cx="233.7" cy="268.7" r="5.65" fill="#30f030"/><circle cx="194.6" cy="270.1" r="3.68" fill="#ff9800"/><circle cx="197.0" cy="273.7" r="5.57" fill="#30f030"/><circle cx="208.3" cy="271.0" r="3.29" fill="#ff9800"/><circle cx="211.7" cy="273.3" r="4.47" fill="#ff0000"/><circle cx="216.3" cy="275.7" r="3.68" fill="#ff9800"/><circle cx="203.0" cy="279.0" r="2.90" fill="#ff9800"/><circle cx="207.7" cy="281.0" r="4.47" fill="#30f030"/><circle cx="196.3" cy="282.6" r="3.68" fill="#ff9800"/><circle cx="205.7" cy="283.0" r="3.68" fill="#ff9800"/><circle cx="218.3" cy="283.7" r="4.47" fill="#ff9800"/><circle cx="225.0" cy="280.3" r="3.68" fill="#ff9800"/><circle cx="235.0" cy="279.0" r="4.08" fill="#ff9800"/><circle cx="231.7" cy="283.0" r="3.29" fill="#ff9800"/><circle cx="227.0" cy="286.3" r="3.68" fill="#ff9800"/><circle cx="234.3" cy="287.4" r="5.41" fill="#1a5aff"/><circle cx="198.3" cy="287.7" r="3.68" fill="#ff9800"/><circle cx="202.3" cy="288.3" r="2.90" fill="#ff9800"/><circle cx="208.3" cy="291.0" r="4.86" fill="#30f030"/><circle cx="216.3" cy="291.7" r="2.90" fill="#ff0000"/><circle cx="215.0" cy="293.0" r="4.08" fill="#ffff00"/><circle cx="221.0" cy="291.0" r="4.08" fill="#ffff00"/><circle cx="230.3" cy="293.7" r="3.68" fill="#30f030"/><circle cx="227.7" cy="295.0" r="2.90" fill="#ff0000"/><circle cx="190.6" cy="293.0" r="3.68" fill="#ff9800"/><circle cx="240.5" cy="248.7" r="3.09" fill="#ff0000"/><circle cx="248.7" cy="246.3" r="3.49" fill="#ff9800"/><circle cx="257.0" cy="246.7" r="3.88" fill="#1a5aff"/><circle cx="257.3" cy="251.0" r="4.47" fill="#ff9800"/><circle cx="264.0" cy="248.7" r="3.88" fill="#ff9800"/><circle cx="268.7" cy="245.7" r="3.29" fill="#ffff00"/><circle cx="275.3" cy="245.7" r="3.88" fill="#ffff00"/><circle cx="273.3" cy="253.7" r="4.08" fill="#ff9800"/><circle cx="280.0" cy="252.3" r="3.29" fill="#1a5aff"/><circle cx="284.3" cy="247.0" r="4.47" fill="#ff9800"/><circle cx="284.0" cy="255.7" r="3.68" fill="#ff9800"/><circle cx="293.3" cy="247.7" r="3.88" fill="#ff9800"/><circle cx="297.3" cy="249.0" r="4.08" fill="#ff9800"/><circle cx="307.3" cy="248.0" r="4.27" fill="#ff9800"/><circle cx="314.0" cy="250.1" r="4.86" fill="#30f030"/><circle cx="300.0" cy="255.0" r="3.29" fill="#ff9800"/><circle cx="290.0" cy="253.7" r="2.50" fill="#ff0000"/><circle cx="246.4" cy="257.0" r="5.10" fill="#30f030"/><circle cx="254.0" cy="256.3" r="2.90" fill="#ff0000"/><circle cx="261.3" cy="256.3" r="3.68" fill="#ff9800"/><circle cx="309.3" cy="255.7" r="3.29" fill="#ff9800"/><circle cx="302.0" cy="257.3" r="5.41" fill="#ffff00"/><circle cx="318.7" cy="255.7" r="2.50" fill="#ff0000"/><circle cx="240.8" cy="266.0" r="3.29" fill="#ff9800"/><circle cx="244.7" cy="269.0" r="3.29" fill="#ff9800"/><circle cx="263.3" cy="261.0" r="3.29" fill="#ff9800"/><circle cx="270.7" cy="260.3" r="3.68" fill="#ff0000"/><circle cx="277.3" cy="259.0" r="3.68" fill="#ff9800"/><circle cx="267.3" cy="263.7" r="3.29" fill="#ff9800"/><circle cx="283.3" cy="261.0" r="3.68" fill="#ff9800"/><circle cx="254.0" cy="266.1" r="6.04" fill="#30f030"/><circle cx="261.3" cy="267.7" r="3.68" fill="#ffff00"/><circle cx="274.9" cy="267.9" r="6.20" fill="#30f030"/><circle cx="284.0" cy="267.0" r="3.29" fill="#ff0000"/><circle cx="289.3" cy="265.0" r="3.68" fill="#ff0000"/><circle cx="292.7" cy="259.4" r="4.08" fill="#ff9800"/><circle cx="302.7" cy="263.7" r="3.68" fill="#ff9800"/><circle cx="308.0" cy="263.0" r="3.29" fill="#30f030"/><circle cx="315.2" cy="261.7" r="3.88" fill="#ff9800"/><circle cx="294.7" cy="271.4" r="4.86" fill="#ffff00"/><circle cx="305.3" cy="269.0" r="3.68" fill="#ff9800"/><circle cx="310.7" cy="269.0" r="3.29" fill="#ff9800"/><circle cx="316.8" cy="268.9" r="4.08" fill="#ffff00"/><circle cx="267.3" cy="270.3" r="3.68" fill="#ff9800"/><circle cx="288.0" cy="271.7" r="3.29" fill="#ff9800"/><circle cx="246.0" cy="275.0" r="3.68" fill="#ff9800"/><circle cx="254.0" cy="275.0" r="4.08" fill="#ff9800"/><circle cx="260.0" cy="276.3" r="2.90" fill="#ff0000"/><circle cx="272.0" cy="275.7" r="3.68" fill="#ff9800"/><circle cx="280.0" cy="277.0" r="2.90" fill="#ffff00"/><circle cx="265.3" cy="278.3" r="4.86" fill="#1a5aff"/><circle cx="272.0" cy="280.3" r="4.08" fill="#ff9800"/><circle cx="279.3" cy="281.0" r="3.29" fill="#ff9800"/><circle cx="285.3" cy="275.7" r="3.29" fill="#ff9800"/><circle cx="292.7" cy="279.0" r="4.08" fill="#1a5aff"/><circle cx="300.0" cy="277.0" r="4.08" fill="#ff9800"/><circle cx="306.7" cy="274.3" r="3.68" fill="#ff9800"/><circle cx="314.0" cy="275.0" r="4.08" fill="#ff9800"/><circle cx="309.3" cy="277.0" r="2.90" fill="#30f030"/><circle cx="246.0" cy="283.0" r="5.41" fill="#1a5aff"/><circle cx="258.7" cy="281.0" r="3.29" fill="#ff9800"/><circle cx="253.3" cy="280.3" r="3.29" fill="#ff9800"/><circle cx="262.7" cy="285.0" r="4.08" fill="#ff9800"/><circle cx="268.0" cy="287.0" r="3.29" fill="#ff9800"/><circle cx="276.0" cy="286.3" r="4.08" fill="#ff9800"/><circle cx="284.0" cy="283.0" r="2.50" fill="#ff9800"/><circle cx="294.7" cy="286.3" r="2.90" fill="#ff0000"/><circle cx="299.3" cy="283.0" r="3.29" fill="#1a5aff"/><circle cx="308.0" cy="283.0" r="3.29" fill="#ff0000"/><circle cx="316.5" cy="285.0" r="5.26" fill="#30f030"/><circle cx="312.0" cy="279.7" r="3.29" fill="#ff9800"/><circle cx="241.2" cy="290.7" r="4.08" fill="#ffff00"/><circle cx="256.0" cy="289.0" r="3.68" fill="#1a5aff"/><circle cx="260.0" cy="289.0" r="3.29" fill="#ff9800"/><circle cx="264.0" cy="291.7" r="3.29" fill="#30f030"/><circle cx="250.0" cy="292.3" r="3.29" fill="#ff9800"/><circle cx="251.3" cy="296.3" r="4.08" fill="#ffff00"/><circle cx="261.3" cy="295.0" r="4.08" fill="#ff9800"/><circle cx="270.4" cy="295.4" r="4.86" fill="#30f030"/><circle cx="276.0" cy="291.0" r="3.29" fill="#ff9800"/><circle cx="282.7" cy="295.7" r="6.04" fill="#1a5aff"/><circle cx="288.7" cy="294.3" r="5.26" fill="#30f030"/><circle cx="303.7" cy="289.7" r="6.04" fill="#30f030"/><circle cx="294.7" cy="291.7" r="3.29" fill="#ff9800"/><circle cx="298.7" cy="296.3" r="4.08" fill="#ffff00"/><circle cx="292.0" cy="297.7" r="3.29" fill="#ff9800"/><circle cx="308.7" cy="297.7" r="4.08" fill="#30f030"/><circle cx="317.5" cy="291.0" r="3.09" fill="#ff0000"/><circle cx="243.3" cy="296.3" r="3.29" fill="#ff9800"/><circle cx="316.0" cy="297.7" r="3.29" fill="#ff9800"/><circle cx="187.9" cy="316.1" r="6.20" fill="#1a5aff"/><circle cx="202.3" cy="312.6" r="5.57" fill="#1a5aff"/><circle cx="206.3" cy="305.4" r="3.29" fill="#ff9800"/><circle cx="211.0" cy="299.0" r="3.68" fill="#ff9800"/><circle cx="214.3" cy="304.6" r="4.86" fill="#30f030"/><circle cx="215.4" cy="310.7" r="4.08" fill="#ff9800"/><circle cx="211.0" cy="314.7" r="3.29" fill="#ff9800"/><circle cx="216.3" cy="317.0" r="4.47" fill="#ff9800"/><circle cx="215.4" cy="324.6" r="4.47" fill="#ff9800"/><circle cx="222.6" cy="316.6" r="3.29" fill="#ff9800"/><circle cx="226.3" cy="306.7" r="3.68" fill="#ff9800"/><circle cx="229.0" cy="313.0" r="3.68" fill="#ff9800"/><circle cx="229.0" cy="320.6" r="3.29" fill="#ff0000"/><circle cx="230.1" cy="327.0" r="3.68" fill="#ff9800"/><circle cx="233.0" cy="308.3" r="3.29" fill="#ff9800"/><circle cx="237.7" cy="321.7" r="4.08" fill="#ff9800"/><circle cx="237.0" cy="327.7" r="3.29" fill="#ff9800"/><circle cx="237.7" cy="333.0" r="4.08" fill="#ff9800"/><circle cx="223.7" cy="329.9" r="7.23" fill="#1a5aff"/><circle cx="235.7" cy="339.7" r="3.68" fill="#ff0000"/><circle cx="210.6" cy="346.3" r="4.08" fill="#ff0000"/><circle cx="228.3" cy="300.3" r="2.90" fill="#ff9800"/><circle cx="231.7" cy="301.0" r="3.29" fill="#ffff00"/><circle cx="233.0" cy="298.3" r="2.90" fill="#ff9800"/><circle cx="237.7" cy="301.7" r="2.90" fill="#ff9800"/><circle cx="242.3" cy="300.3" r="2.90" fill="#30f030"/><circle cx="225.7" cy="297.7" r="3.29" fill="#ff9800"/><circle cx="223.7" cy="311.0" r="2.50" fill="#ffff00"/><circle cx="239.0" cy="316.3" r="3.29" fill="#ff9800"/><circle cx="310.0" cy="301.0" r="5.57" fill="#30f030"/><circle cx="302.4" cy="304.6" r="5.41" fill="#30f030"/><circle cx="244.2" cy="305.3" r="3.29" fill="#ff9800"/><circle cx="264.0" cy="301.7" r="4.08" fill="#ff9800"/><circle cx="268.7" cy="301.7" r="3.29" fill="#ff9800"/><circle cx="275.3" cy="301.0" r="2.90" fill="#ff9800"/><circle cx="272.7" cy="304.3" r="3.29" fill="#ff9800"/><circle cx="255.3" cy="305.0" r="4.47" fill="#ffff00"/><circle cx="256.7" cy="308.3" r="3.29" fill="#ff0000"/><circle cx="271.7" cy="309.4" r="5.41" fill="#30f030"/><circle cx="240.2" cy="309.7" r="3.49" fill="#ff9800"/><circle cx="244.7" cy="317.7" r="3.68" fill="#ff9800"/><circle cx="252.0" cy="321.0" r="3.29" fill="#30f030"/><circle cx="252.3" cy="314.3" r="5.65" fill="#30f030"/><circle cx="280.0" cy="313.7" r="2.90" fill="#ff9800"/><circle cx="269.6" cy="317.0" r="3.29" fill="#ff0000"/><circle cx="285.6" cy="315.0" r="5.57" fill="#30f030"/><circle cx="278.7" cy="322.3" r="5.65" fill="#30f030"/><circle cx="306.7" cy="314.3" r="5.65" fill="#1a5aff"/><circle cx="243.5" cy="325.3" r="3.49" fill="#ffff00"/><circle cx="267.3" cy="326.3" r="3.29" fill="#ff9800"/><circle cx="256.3" cy="332.1" r="5.41" fill="#30f030"/><circle cx="268.3" cy="333.7" r="4.63" fill="#ff0000"/><circle cx="245.3" cy="332.3" r="3.29" fill="#ff9800"/><circle cx="278.7" cy="333.7" r="3.68" fill="#ffff00"/><circle cx="280.7" cy="336.3" r="3.29" fill="#ff9800"/><circle cx="293.1" cy="334.7" r="5.26" fill="#30f030"/><circle cx="287.3" cy="335.0" r="4.86" fill="#30f030"/><circle cx="300.0" cy="331.7" r="4.86" fill="#30f030"/><circle cx="308.7" cy="329.4" r="5.65" fill="#30f030"/><circle cx="317.1" cy="332.6" r="4.08" fill="#ff9800"/><circle cx="307.3" cy="342.3" r="4.08" fill="#ff9800"/><circle cx="313.1" cy="343.3" r="4.08" fill="#30f030"/><circle cx="288.0" cy="345.4" r="3.29" fill="#ffff00"/><circle cx="284.0" cy="347.0" r="4.08" fill="#ff0000"/><circle cx="302.0" cy="348.3" r="3.68" fill="#1a5aff"/><circle cx="331.0" cy="297.7" r="3.68" fill="#ff9800"/><circle cx="340.3" cy="298.3" r="4.86" fill="#1a5aff"/><circle cx="327.0" cy="308.1" r="5.41" fill="#30f030"/><circle cx="317.5" cy="313.2" r="4.08" fill="#ff9800"/><circle cx="324.3" cy="314.3" r="3.29" fill="#ff9800"/><circle cx="372.6" cy="310.7" r="5.57" fill="#30f030"/><circle cx="387.0" cy="308.3" r="5.57" fill="#30f030"/><circle cx="345.9" cy="332.1" r="4.47" fill="#ff9800"/><circle cx="231.4" cy="352.7" r="4.63" fill="#ff9800"/><circle cx="230.5" cy="346.7" r="5.14" fill="#30f030"/><circle cx="237.3" cy="360.7" r="4.63" fill="#ff9800"/><circle cx="226.3" cy="371.3" r="5.65" fill="#30f030"/><circle cx="203.4" cy="374.7" r="5.65" fill="#30f030"/><circle cx="240.0" cy="344.5" r="3.29" fill="#30f030"/><circle cx="243.3" cy="344.5" r="3.88" fill="#30f030"/><circle cx="243.4" cy="339.6" r="4.41" fill="#ffff00"/><circle cx="302.7" cy="350.3" r="6.04" fill="#1a5aff"/><circle cx="277.6" cy="354.0" r="4.08" fill="#ff0000"/><circle cx="294.0" cy="357.3" r="4.86" fill="#30f030"/><circle cx="294.9" cy="363.1" r="5.26" fill="#ffff00"/><circle cx="273.3" cy="359.6" r="5.26" fill="#30f030"/><circle cx="268.0" cy="360.0" r="3.68" fill="#ff9800"/><circle cx="254.0" cy="355.3" r="3.68" fill="#ff9800"/><circle cx="256.7" cy="357.3" r="4.63" fill="#30f030"/><circle cx="262.9" cy="356.4" r="4.86" fill="#ffff00"/><circle cx="262.9" cy="364.9" r="4.08" fill="#ff9800"/><circle cx="245.6" cy="374.7" r="5.10" fill="#30f030"/><circle cx="240.5" cy="378.0" r="4.47" fill="#30f030"/><circle cx="256.7" cy="372.4" r="3.29" fill="#ff9800"/><circle cx="258.0" cy="376.9" r="4.08" fill="#ff9800"/><circle cx="277.6" cy="373.7" r="6.23" fill="#1a5aff"/><circle cx="344.0" cy="350.7" r="4.86" fill="#ff9800"/><circle cx="379.6" cy="356.9" r="4.86" fill="#ff9800"/><circle cx="319.3" cy="372.0" r="5.26" fill="#ff0000"/><circle cx="348.0" cy="369.7" r="5.41" fill="#ff0000"/></g>
</g>
<rect x="24.85" y="46.20" width="467.80" height="335.80" fill="none" stroke="#000" stroke-width="2"/>
<path d="M24.85 46.20V40.20M24.85 382.00V388.00M43.56 46.20V43.20M43.56 382.00V385.00M62.27 46.20V43.20M62.27 382.00V385.00M80.99 46.20V43.20M80.99 382.00V385.00M99.70 46.20V43.20M99.70 382.00V385.00M118.41 46.20V40.20M118.41 382.00V388.00M137.12 46.20V43.20M137.12 382.00V385.00M155.83 46.20V43.20M155.83 382.00V385.00M174.55 46.20V43.20M174.55 382.00V385.00M193.26 46.20V43.20M193.26 382.00V385.00M211.97 46.20V40.20M211.97 382.00V388.00M230.68 46.20V43.20M230.68 382.00V385.00M249.39 46.20V43.20M249.39 382.00V385.00M268.11 46.20V43.20M268.11 382.00V385.00M286.82 46.20V43.20M286.82 382.00V385.00M305.53 46.20V40.20M305.53 382.00V388.00M324.24 46.20V43.20M324.24 382.00V385.00M342.95 46.20V43.20M342.95 382.00V385.00M361.67 46.20V43.20M361.67 382.00V385.00M380.38 46.20V43.20M380.38 382.00V385.00M399.09 46.20V40.20M399.09 382.00V388.00M417.80 46.20V43.20M417.80 382.00V385.00M436.51 46.20V43.20M436.51 382.00V385.00M455.23 46.20V43.20M455.23 382.00V385.00M473.94 46.20V43.20M473.94 382.00V385.00M492.65 46.20V40.20M492.65 382.00V388.00M24.85 382.00H18.85M492.65 382.00H498.65M24.85 359.97H21.85M492.65 359.97H495.65M24.85 337.89H21.85M492.65 337.89H495.65M24.85 315.76H21.85M492.65 315.76H495.65M24.85 293.58H21.85M492.65 293.58H495.65M24.85 271.35H18.85M492.65 271.35H498.65M24.85 249.07H21.85M492.65 249.07H495.65M24.85 226.74H21.85M492.65 226.74H495.65M24.85 204.36H21.85M492.65 204.36H495.65M24.85 181.92H21.85M492.65 181.92H495.65M24.85 159.44H18.85M492.65 159.44H498.65M24.85 136.90H21.85M492.65 136.90H495.65M24.85 114.31H21.85M492.65 114.31H495.65M24.85 91.66H21.85M492.65 91.66H495.65M24.85 68.96H21.85M492.65 68.96H495.65M24.85 46.20H18.85M492.65 46.20H498.65" stroke="#000" stroke-width="0.9" fill="none"/>
<text x="24.85" y="36.6" font-family="'Liberation Sans', Arial, sans-serif" font-size="10.6" text-anchor="middle">133<tspan font-size="7" dy="-4.2">&#8226;</tspan></text>
<text x="118.41" y="36.6" font-family="'Liberation Sans', Arial, sans-serif" font-size="10.6" text-anchor="middle">134<tspan font-size="7" dy="-4.2">&#8226;</tspan></text>
<text x="211.97" y="36.6" font-family="'Liberation Sans', Arial, sans-serif" font-size="10.6" text-anchor="middle">135<tspan font-size="7" dy="-4.2">&#8226;</tspan></text>
<text x="305.53" y="36.6" font-family="'Liberation Sans', Arial, sans-serif" font-size="10.6" text-anchor="middle">136<tspan font-size="7" dy="-4.2">&#8226;</tspan></text>
<text x="399.09" y="36.6" font-family="'Liberation Sans', Arial, sans-serif" font-size="10.6" text-anchor="middle">137<tspan font-size="7" dy="-4.2">&#8226;</tspan></text>
<text x="492.65" y="36.6" font-family="'Liberation Sans', Arial, sans-serif" font-size="10.6" text-anchor="middle">138<tspan font-size="7" dy="-4.2">&#8226;</tspan></text>
<text x="16.2" y="386.00" font-family="'Liberation Sans', Arial, sans-serif" font-size="10.8" text-anchor="end">32<tspan font-size="7" dy="-4.2">&#8226;</tspan></text>
<text x="16.2" y="275.35" font-family="'Liberation Sans', Arial, sans-serif" font-size="10.8" text-anchor="end">33<tspan font-size="7" dy="-4.2">&#8226;</tspan></text>
<text x="16.2" y="163.44" font-family="'Liberation Sans', Arial, sans-serif" font-size="10.8" text-anchor="end">34<tspan font-size="7" dy="-4.2">&#8226;</tspan></text>
<text x="16.2" y="50.20" font-family="'Liberation Sans', Arial, sans-serif" font-size="10.8" text-anchor="end">35<tspan font-size="7" dy="-4.2">&#8226;</tspan></text>
<text x="51.4" y="10.4" font-family="'Liberation Serif', 'Times New Roman', serif" font-size="15.45" textLength="415.6" style="stroke-width:0.4px" lengthAdjust="spacingAndGlyphs">latest 24 hours: 18/12/20&#8211;08:00:00 ~ 18/12/21&#8211;07:59:59 (N = 717)</text>
<path d="M551.4 209.3 L557.3 219.2 L545.5 219.2 Z" fill="#fff" stroke="#000" stroke-width="0.9"/>
<text x="503.4" y="237.5" font-family="'Liberation Serif', 'Times New Roman', serif" font-size="15.3">DONET station</text>
<circle cx="530.45" cy="274.45" r="7.90" fill="#c8c8c8" stroke="#333" stroke-width="0.9"/>
<text x="550.2" y="279.65" font-family="'Liberation Serif', 'Times New Roman', serif" font-size="15.3">5</text>
<circle cx="530.45" cy="293.40" r="5.80" fill="#c8c8c8" stroke="#333" stroke-width="0.9"/>
<text x="550.2" y="298.60" font-family="'Liberation Serif', 'Times New Roman', serif" font-size="15.3">4</text>
<circle cx="530.45" cy="310.50" r="4.45" fill="#c8c8c8" stroke="#333" stroke-width="0.9"/>
<text x="550.2" y="315.70" font-family="'Liberation Serif', 'Times New Roman', serif" font-size="15.3">3</text>
<circle cx="530.45" cy="327.10" r="3.00" fill="#c8c8c8" stroke="#333" stroke-width="0.9"/>
<text x="550.2" y="332.30" font-family="'Liberation Serif', 'Times New Roman', serif" font-size="15.3">2</text>
<circle cx="530.45" cy="343.50" r="1.35" fill="#c8c8c8" stroke="#333" stroke-width="0.9"/>
<text x="550.2" y="348.70" font-family="'Liberation Serif', 'Times New Roman', serif" font-size="15.3">1</text>
<text x="509.3" y="364.2" font-family="'Liberation Serif', 'Times New Roman', serif" font-size="15.3" textLength="65.7" lengthAdjust="spacingAndGlyphs">Magnitude</text>
<path d="M22.7 395.6 L25.3 393.25 L336.5 393.25 L339.1 395.6 L336.5 398 L25.3 398 Z" fill="#000"/>
<rect x="25.50" y="394.7" width="14.90" height="2.3" fill="#ff0000"/>
<rect x="40.40" y="394.7" width="23.30" height="2.3" fill="#ff9800"/>
<rect x="63.70" y="394.7" width="38.90" height="2.3" fill="#ffff00"/>
<rect x="102.60" y="394.7" width="78.00" height="2.3" fill="#30f030"/>
<rect x="180.60" y="394.7" width="155.60" height="2.3" fill="#1a5aff"/>
<path d="M25.3 398V403.7M40.4 398V403.7M63.7 398V403.7M102.6 398V403.7M180.6 398V403.7M336.4 398V403.7" stroke="#000" stroke-width="0.9"/>
<text x="25.3" y="415.8" font-family="'Liberation Sans', Arial, sans-serif" font-size="10" text-anchor="middle">0</text>
<text x="40.4" y="415.8" font-family="'Liberation Sans', Arial, sans-serif" font-size="10" text-anchor="middle">20</text>
<text x="63.7" y="415.8" font-family="'Liberation Sans', Arial, sans-serif" font-size="10" text-anchor="middle">50</text>
<text x="102.6" y="415.8" font-family="'Liberation Sans', Arial, sans-serif" font-size="10" text-anchor="middle">100</text>
<text x="180.6" y="415.8" font-family="'Liberation Sans', Arial, sans-serif" font-size="10" text-anchor="middle">200</text>
<text x="336.4" y="415.8" font-family="'Liberation Sans', Arial, sans-serif" font-size="10" text-anchor="middle">400</text>
<text x="342.4" y="400" font-family="'Liberation Sans', Arial, sans-serif" font-size="10.5" textLength="51.2" lengthAdjust="spacingAndGlyphs">depth (km)</text>
</svg>
</body></html>
